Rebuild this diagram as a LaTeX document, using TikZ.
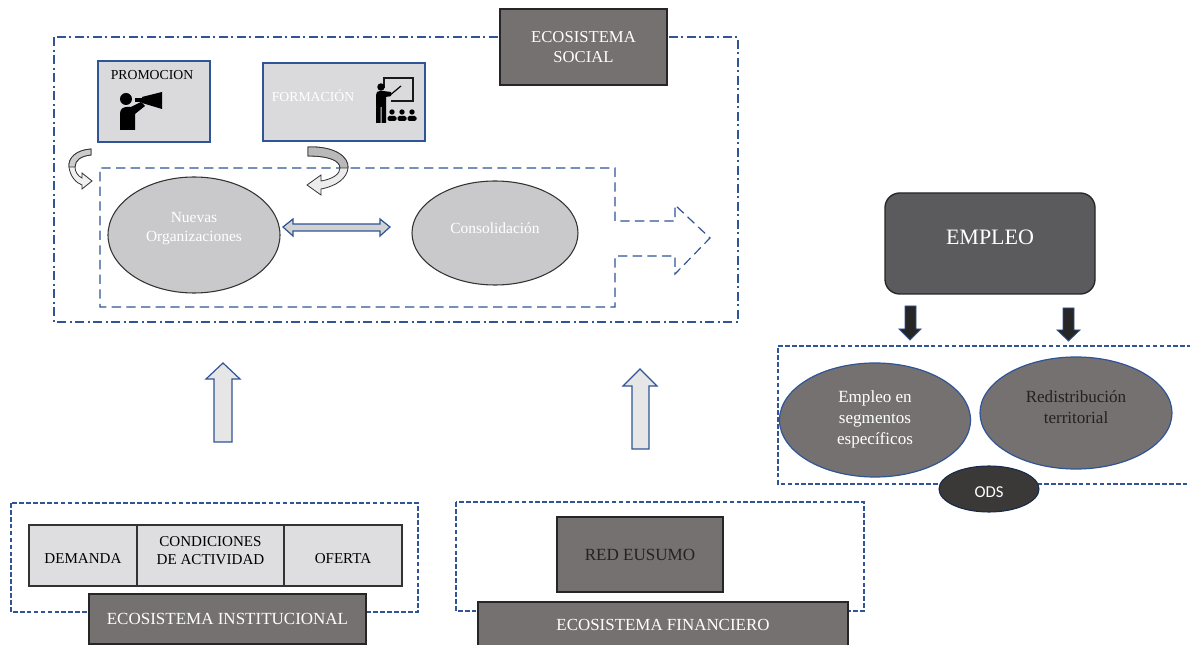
\documentclass[tikz,border=0pt]{standalone}
\usepackage{fontspec}
\setmainfont{Liberation Serif}
\newfontfamily\carlito{Carlito}
\usetikzlibrary{shapes.geometric}
\definecolor{dkgray}{HTML}{767171}
\definecolor{empgray}{HTML}{5B5B5D}
\definecolor{odsgray}{HTML}{3B3838}
\definecolor{ltbox}{HTML}{DADADC}
\definecolor{ellgray}{HTML}{C9C9CB}
\definecolor{cellgray}{HTML}{DEDEE0}
\definecolor{lineblue}{HTML}{2F5597}
\definecolor{arrowfill}{HTML}{E6E6E6}
\definecolor{darkarrow}{HTML}{262626}
\definecolor{darktext}{HTML}{222222}
\tikzset{
  sz/.style 2 args={minimum width=#1*0.75pt, minimum height=#2*0.75pt},
  base/.style={inner sep=0pt, outer sep=0pt, align=center},
  darkbox/.style={base, rectangle, fill=dkgray, draw=black!85, line width=1pt, text=white},
  lightbox/.style={base, rectangle, fill=ltbox, draw=lineblue, line width=1pt},
  cell/.style={base, rectangle, fill=cellgray, draw=black!80, line width=0.9pt},
  grayell/.style={base, ellipse, fill=ellgray, draw=black!80, line width=0.8pt},
  blueell/.style={base, ellipse, fill=dkgray, draw=lineblue, line width=0.9pt},
  blockarrow/.style={fill=arrowfill, draw=lineblue, line width=0.9pt},
  downarrow/.style={fill=darkarrow, draw=lineblue, line width=0.6pt},
  dashbox/.style={draw=lineblue, line width=0.9pt, dash pattern=on 3.5pt off 1.7pt},
  dashdot/.style={draw=lineblue, line width=0.9pt, dash pattern=on 7pt off 2.5pt on 1.5pt off 2.5pt},
  innerdash/.style={draw=lineblue, line width=0.9pt, dash pattern=on 7pt off 4pt},
  curvearrow/.style={draw=black!80, line width=0.6pt},
  txt/.style={base},
}
\begin{document}
\begin{tikzpicture}[x=0.75pt,y=-0.75pt]
\useasboundingbox (0,0) rectangle (1190,645);
\fill[white] (0,0) rectangle (1190,645);

% ---------- social ecosystem ----------
\draw[dashdot] (54,37) rectangle (738,322);
\node[darkbox, sz={167}{76}, line width=1.3pt, font=\fontsize{12.5}{15}\selectfont] (social) at (583.5,47) {ECOSISTEMA\\SOCIAL};

\draw[innerdash] (615,221) -- (615,168) -- (100,168) -- (100,307) -- (615,307) -- (615,256) -- (675,256) -- (675,274) -- (710,238) -- (675,205) -- (675,221) -- cycle;

\node[lightbox, sz={112}{81}] (promo) at (154,101.5) {};
\node[txt, font=\fontsize{10.3}{12}\selectfont] (promotxt) at (152,75) {PROMOCION};
\node[lightbox, sz={162}{78}] (forma) at (344,102) {};
\node[txt, text=white, font=\fontsize{10.3}{12}\selectfont] (formatxt) at (313,96) {FORMACIÓN};

% megaphone person
\fill[black] (126,99) circle[radius=4.5pt];
\fill[black] (120,130) -- (120,114) .. controls (120,109) and (123,107) .. (127,107) -- (131,107) -- (141,102) -- (145,106) -- (135,114) -- (135,130) -- cycle;
\fill[black] (135,98) rectangle (142,102);
\fill[black] (142,97) -- (162,92) -- (162,109) -- (142,103) -- cycle;

% teacher
\draw[line width=1.4pt, black!90] (384,88) -- (384,78) -- (413,78) -- (413,101) -- (391,101);
\draw[line width=0.9pt] (389,96) -- (401,86);
\fill (381,87) circle[radius=2.8pt];
\fill (376,123) -- (376,95) .. controls (376,92) and (377.5,91) .. (380,91) -- (383,91) -- (391,92) -- (391,96) -- (386,97) -- (386,123) -- (381.5,123) -- (381.5,107) -- (380.5,107) -- (380.5,123) -- cycle;
\foreach \sx in {392,402,412} {
  \fill (\sx,112) circle[radius=2pt];
  \fill[rounded corners=1.2pt] (\sx-4.5,121) rectangle (\sx+4.5,116);
}

% curved arrows
\filldraw[curvearrow, fill=gray!12] (91,149) .. controls (76,150) and (68,158) .. (69,167) .. controls (70,176) and (76,183) .. (82,185) -- (82,189) -- (92,181) -- (82,173) -- (82,178) .. controls (78,176) and (75,172) .. (75,167) .. controls (75,160) and (81,156) .. (91,155) -- cycle;
\filldraw[curvearrow, fill=gray!40] (91,149) .. controls (76,150) and (68,158) .. (69,167) -- (75,167) .. controls (75,160) and (81,156) .. (91,155) -- cycle;

\filldraw[curvearrow, fill=gray!15] (308,147) .. controls (335,146) and (349,157) .. (348,168) .. controls (347,178) and (337,186) .. (321,189) -- (321,195) -- (307,185) -- (321,175) -- (321,181) .. controls (333,179) and (340,174) .. (340,168) .. controls (340,161) and (330,156) .. (308,156) -- cycle;
\filldraw[curvearrow, fill=gray!55] (308,147) .. controls (335,146) and (349,157) .. (348,168) -- (340,168) .. controls (340,161) and (330,156) .. (308,156) -- cycle;

\node[grayell, sz={172}{116}] (nuevas) at (194,235) {};
\node[txt, text=white, font=\fontsize{11.6}{14.25}\selectfont] (nuevastxt) at (194,229) {Nuevas\\Organizaciones};
\node[grayell, sz={166}{104}] (consol) at (495,233) {};
\node[txt, text=white, font=\fontsize{11.6}{14}\selectfont] (consoltxt) at (495,228) {Consolidación};

\filldraw[blockarrow, fill=gray!35] (283,227) -- (293,219) -- (293,224) -- (380,224) -- (380,219) -- (390,227) -- (380,236) -- (380,231) -- (293,231) -- (293,236) -- cycle;

% ---------- employment ----------
\node[base, rectangle, rounded corners=11pt, fill=empgray, draw=black!85, line width=1pt, sz={210}{101}] (empleo) at (990,243.5) {};
\node[txt, text=white, font=\fontsize{16.5}{20}\selectfont] (empleotxt) at (990,237) {EMPLEO};

\filldraw[downarrow] (905,306) -- (916,306) -- (916,329) -- (921,329) -- (910,340) -- (899,329) -- (905,329) -- cycle;
\filldraw[downarrow] (1063,308) -- (1074,308) -- (1074,330) -- (1080,330) -- (1068.5,341) -- (1057,330) -- (1063,330) -- cycle;

\draw[dashbox] (1192,346) -- (778,346) -- (778,484) -- (1192,484);
\node[blueell, sz={191}{114}] (seg) at (875,420) {};
\node[txt, text=white, font=\fontsize{12.8}{15.75}\selectfont] (segtxt) at (875,419) {Empleo en\\segmentos\\específicos};
\node[blueell, sz={192}{112}] (redis) at (1076,413) {};
\node[txt, text=darktext, font=\fontsize{12.8}{15.5}\selectfont] (redistxt) at (1076,407) {Redistribución\\territorial};
\node[base, ellipse, fill=odsgray, draw=lineblue!50!black, line width=0.8pt, sz={100}{46}] (ods) at (989,489) {};
\node[txt, text=white, font=\carlito\fontsize{12.5}{15}\selectfont] (odstxt) at (989,492) {ODS};

% ---------- up arrows ----------
\filldraw[blockarrow] (214,442) -- (214,379) -- (206,379) -- (223,363) -- (240,379) -- (232,379) -- (232,442) -- cycle;
\filldraw[blockarrow] (632,449) -- (632,386) -- (623,386) -- (640,369) -- (657,386) -- (649,386) -- (649,449) -- cycle;

% ---------- institutional ----------
\draw[dashbox] (11,503) rectangle (418,612);
\node[cell, sz={108}{61}] (demanda) at (83,555.5) {};
\node[cell, sz={147}{61}] (cond) at (210.5,555.5) {};
\node[cell, sz={118}{61}] (oferta) at (343,555.5) {};
\node[txt, font=\fontsize{11.3}{13.5}\selectfont] (demandatxt) at (83,559) {DEMANDA};
\node[txt, font=\fontsize{11.3}{13.5}\selectfont] (condtxt) at (210.5,551) {CONDICIONES\\DE ACTIVIDAD};
\node[txt, font=\fontsize{11.3}{13.5}\selectfont] (ofertatxt) at (343,559) {OFERTA};
\node[darkbox, sz={277}{50}, font=\fontsize{12.75}{15}\selectfont] (inst) at (227.5,619) {ECOSISTEMA INSTITUCIONAL};

% ---------- financial ----------
\draw[dashbox] (456,502) rectangle (864,611);
\node[darkbox, sz={166}{75}, text=darktext, font=\fontsize{12.8}{15}\selectfont] (red) at (640,554.5) {RED EUSUMO};
\node[darkbox, sz={370}{50}] (fin) at (663,627) {};
\node[txt, text=white, font=\fontsize{12.7}{15}\selectfont] (fintxt) at (663,625) {ECOSISTEMA FINANCIERO};
\end{tikzpicture}
\end{document}
